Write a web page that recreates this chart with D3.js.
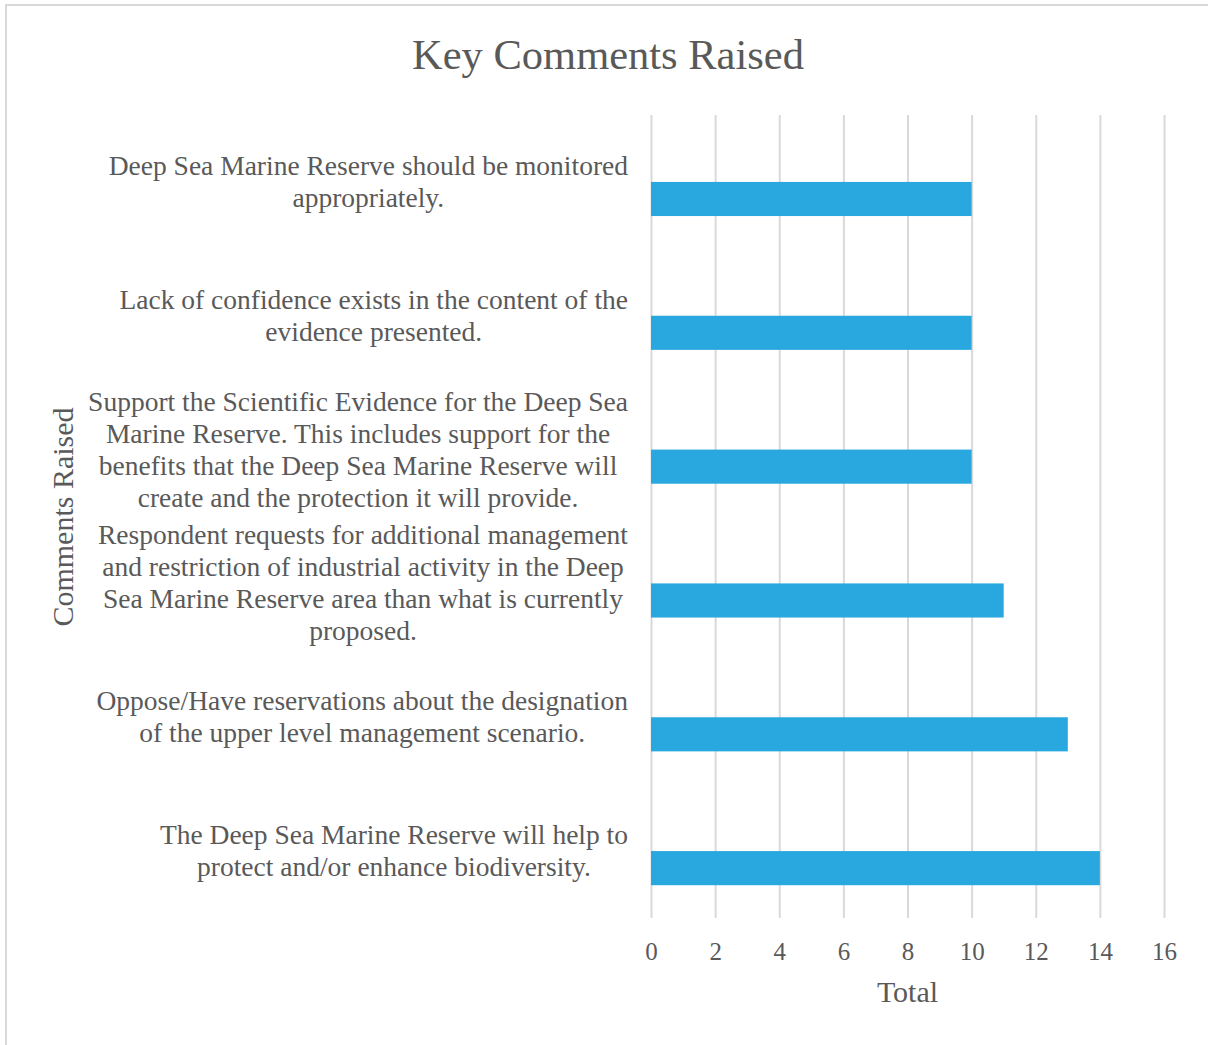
<!DOCTYPE html>
<html>
<head>
<meta charset="utf-8">
<script src="https://cdn.jsdelivr.net/npm/d3@7"></script>
<style>
  html, body { margin: 0; padding: 0; background: #fff; }
  svg { display: block; }
  text { font-family: "Liberation Serif", "Times New Roman", serif; fill: #595959; }
</style>
</head>
<body>
<svg id="chart" width="1208" height="1045"></svg>
<script>
// Comment categories, top to bottom, with their wrapped label lines
const categories = [
  "Deep Sea Marine Reserve should be monitored appropriately.",
  "Lack of confidence exists in the content of the evidence presented.",
  "Support the Scientific Evidence for the Deep Sea Marine Reserve. This includes support for the benefits that the Deep Sea Marine Reserve will create and the protection it will provide.",
  "Respondent requests for additional management and restriction of industrial activity in the Deep Sea Marine Reserve area than what is currently proposed.",
  "Oppose/Have reservations about the designation of the upper level management scenario.",
  "The Deep Sea Marine Reserve will help to protect and/or enhance biodiversity."
];
const labelLines = [
  ["Deep Sea Marine Reserve should be monitored", "appropriately."],
  ["Lack of confidence exists in the content of the", "evidence presented."],
  ["Support the Scientific Evidence for the Deep Sea", "Marine Reserve. This includes support for the", "benefits that the Deep Sea Marine Reserve will", "create and the protection it will provide."],
  ["Respondent requests for additional management", "and restriction of industrial activity in the Deep", "Sea Marine Reserve area than what is currently", "proposed."],
  ["Oppose/Have reservations about the designation", "of the upper level management scenario."],
  ["The Deep Sea Marine Reserve will help to", "protect and/or enhance biodiversity."]
];
// Number of respondents raising each comment
const totals = [10, 10, 10, 11, 13, 14];
// x-axis ticks
const xTicks = [0, 2, 4, 6, 8, 10, 12, 14, 16];

const svg = d3.select("#chart");

// Chart area border
svg.append("rect")
  .attr("x", 6).attr("y", 5)
  .attr("width", 1240).attr("height", 1080)
  .attr("fill", "none").attr("stroke", "#d9d9d9").attr("stroke-width", 2);

const plot = { left: 651, right: 1164, top: 115, bottom: 918 };

const x = d3.scaleLinear().domain([0, 16]).range([plot.left, plot.right]);
const y = d3.scaleBand().domain(categories).range([plot.top, plot.bottom]).padding(0);

// Title
svg.append("text")
  .attr("x", 608).attr("y", 69)
  .attr("text-anchor", "middle")
  .style("font-size", "42.5px")
  .text("Key Comments Raised");

// Vertical gridlines and tick labels
const xAxis = d3.axisBottom(x)
  .tickValues(xTicks)
  .tickSize(-(plot.bottom - plot.top))
  .tickFormat(d3.format("d"));

const gx = svg.append("g")
  .attr("transform", `translate(0,${plot.bottom})`)
  .call(xAxis);
gx.select(".domain").remove();
gx.selectAll(".tick line").attr("stroke", "#d9d9d9").attr("stroke-width", 2);
gx.selectAll(".tick text")
  .attr("y", 42).attr("dy", null)
  .attr("fill", "#595959")
  .style("font-size", "25px")
  .style("font-family", "\"Liberation Serif\", \"Times New Roman\", serif");

// Bars
svg.append("g").selectAll("rect")
  .data(categories)
  .join("rect")
  .attr("x", x(0))
  .attr("y", (d) => y(d) + y.bandwidth() / 2)
  .attr("width", (d, i) => x(totals[i]) - x(0))
  .attr("height", y.bandwidth() * 0.255)
  .attr("fill", "#29a8e0");

// Category labels: each wrapped block is right-aligned against the plot,
// with its lines centred within the block
const lineH = 32;
const labelRight = 628;
const lbl = svg.append("g").selectAll("text")
  .data(categories)
  .join("text")
  .attr("text-anchor", "middle")
  .style("font-size", "27.5px");
lbl.each(function (d, i) {
  const lines = labelLines[i];
  const cy = y(d) + y.bandwidth() / 2;
  const startY = cy - (lines.length - 1) * lineH / 2 + 9;
  const spans = d3.select(this).selectAll("tspan")
    .data(lines)
    .join("tspan")
    .attr("y", (l, j) => startY + j * lineH)
    .text((l) => l);
  let maxW = 0;
  spans.each(function () { maxW = Math.max(maxW, this.getComputedTextLength()); });
  spans.attr("x", labelRight - maxW / 2);
});

// Axis titles
svg.append("text")
  .attr("x", x(8)).attr("y", 1002)
  .attr("text-anchor", "middle")
  .style("font-size", "30px")
  .text("Total");

svg.append("text")
  .attr("transform", "translate(73,517) rotate(-90)")
  .attr("text-anchor", "middle")
  .style("font-size", "30px")
  .text("Comments Raised");
</script>
</body>
</html>
